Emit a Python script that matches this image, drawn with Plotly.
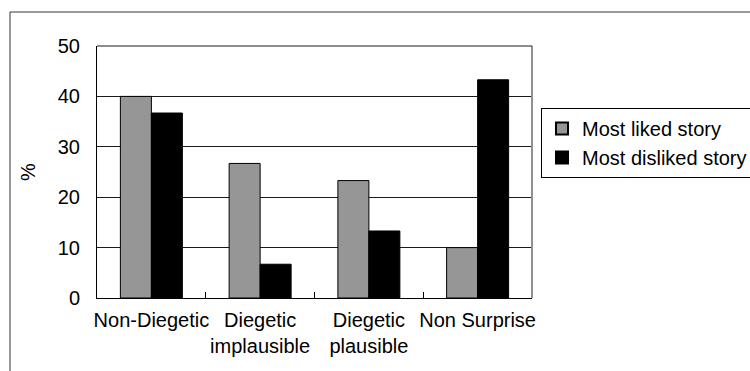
import plotly.graph_objects as go

categories = ["Non-Diegetic", "Diegetic<br>implausible", "Diegetic<br>plausible", "Non Surprise"]
liked = [40, 26.7, 23.3, 10]
disliked = [36.7, 6.7, 13.3, 43.3]
y_ticks = [0, 10, 20, 30, 40, 50]

FONT = "Arial, 'Liberation Sans', sans-serif"
FS = 20

fig = go.Figure()
fig.add_trace(go.Bar(x=categories, y=liked, name="Most liked story",
                     marker=dict(color="#969696", line=dict(color="#000000", width=1))))
fig.add_trace(go.Bar(x=categories, y=disliked, name="Most disliked story",
                     marker=dict(color="#000000", line=dict(color="#000000", width=1))))

L, R, T, B = 97, 218, 46, 73
PW, PH = 750 - L - R, 371 - T - B
fig.update_layout(
    width=750, height=371,
    margin=dict(l=L, r=R, t=T, b=B, pad=0, autoexpand=False),
    paper_bgcolor="white", plot_bgcolor="white",
    barmode="group", bargap=0.43, bargroupgap=0,
    font=dict(family=FONT, size=FS, color="#000000"),
    showlegend=True,
    legend=dict(x=(541 - L) / PW, xanchor="left", y=1 - (108 - T) / PH, yanchor="top",
                bordercolor="#000000", borderwidth=1, bgcolor="white",
                font=dict(family=FONT, size=FS, color="#000000"),
                tracegroupgap=0, itemsizing="constant"),
    xaxis=dict(type="category", showline=True, linecolor="#000000", linewidth=1,
               ticks="inside", tickson="boundaries", ticklen=6, tickcolor="#000000",
               showgrid=False, tickfont=dict(size=FS), ticklabelstandoff=4,
               tickangle=0, automargin=False, fixedrange=True),
    yaxis=dict(range=[0, 50], tickvals=y_ticks, showline=True, linecolor="#000000",
               linewidth=1, showgrid=True, gridcolor="#1a1a1a", gridwidth=1,
               ticks="outside", ticklen=12, tickcolor="rgba(0,0,0,0)",
               zeroline=False, tickfont=dict(size=FS), automargin=False,
               title=dict(text="%", font=dict(size=FS), standoff=16)),
)

# plot-area border on right/top (lighter gray on right)
fig.add_shape(type="line", xref="paper", yref="paper", x0=1, x1=1, y0=0, y1=1,
              line=dict(color="#909090", width=2))
fig.add_shape(type="line", xref="paper", yref="paper", x0=0, x1=1, y0=1, y1=1,
              line=dict(color="#1a1a1a", width=1))
# outer chart frame (left and top edges visible)
fig.add_shape(type="line", xref="paper", yref="paper",
              x0=(10 - L) / PW, x1=(760 - L) / PW, y0=1 + (T - 12) / PH, y1=1 + (T - 12) / PH,
              line=dict(color="#333333", width=1))
fig.add_shape(type="line", xref="paper", yref="paper",
              x0=(10 - L) / PW, x1=(10 - L) / PW, y0=1 + (T - 12) / PH, y1=-(B + 10) / PH,
              line=dict(color="#333333", width=1))

fig.write_html("out.html")
